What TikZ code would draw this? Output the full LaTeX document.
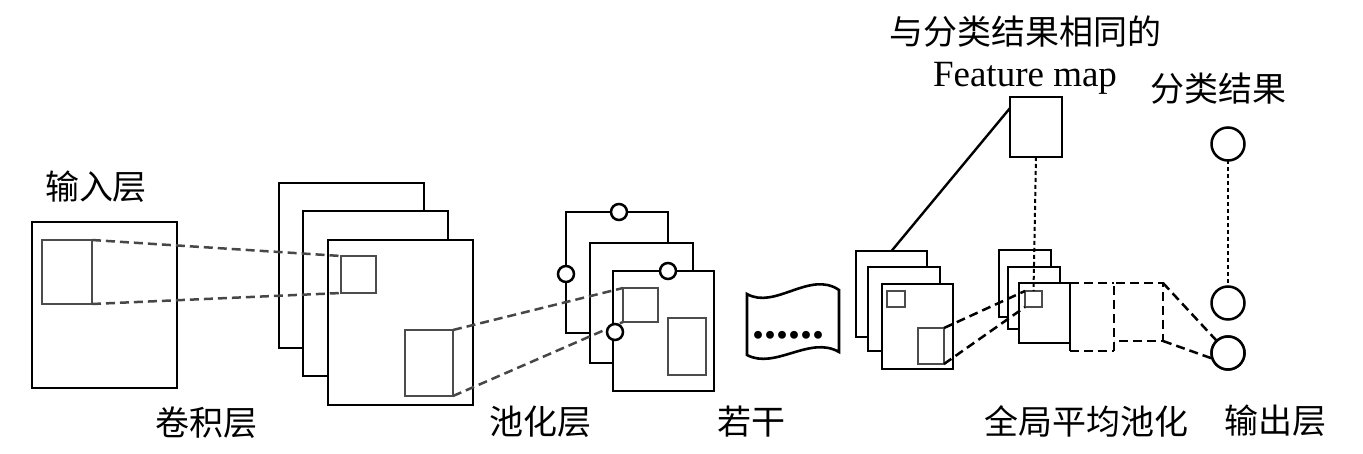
\documentclass[tikz,border=0pt]{standalone}
\usepackage{fontspec}
\setmainfont{Liberation Serif}
\newfontfamily\cjk{Noto Sans CJK SC}
\begin{document}
\begin{tikzpicture}[x=1pt,y=-1pt,
  layer/.style={draw=black, line width=2.6pt, fill=white, inner sep=0pt, outer sep=0pt},
  inner/.style={draw=black!70, line width=2.5pt, inner sep=0pt, outer sep=0pt},
  conn/.style={draw=black!72, line width=2.5pt, dash pattern=on 9pt off 5pt},
  fcdash/.style={draw=black, line width=2.5pt, dash pattern=on 9pt off 5pt},
  dotline/.style={draw=black, line width=2pt, dash pattern=on 4pt off 3pt},
  ring/.style={circle, draw=black, line width=2.5pt, fill=white, inner sep=0pt, outer sep=0pt},
  lbl/.style={font=\cjk\fontsize{34}{36}\selectfont, inner sep=0pt}]
\useasboundingbox (0,0) rectangle (1363,454);

% input layer
\node[layer, minimum width=145, minimum height=166] (inp) at (104.5,305) {};
\node[inner, minimum width=50, minimum height=64] (inpk) at (67,272) {};

% convolution layer
\node[layer, minimum width=145, minimum height=165] (cback) at (351.5,265.5) {};
\node[layer, minimum width=145, minimum height=165] (cmid) at (375.5,293.5) {};
\node[layer, minimum width=145, minimum height=165] (cfront) at (400.5,322.5) {};
\node[inner, minimum width=35, minimum height=37] (csmall) at (358.5,274.5) {};
\node[inner, minimum width=48, minimum height=66] (crect) at (429,363) {};

% pooling layer
\node[layer, minimum width=102, minimum height=121] (pback) at (617,272.5) {};
\node[layer, minimum width=103, minimum height=120] (pmid) at (641.5,303) {};
\node[layer, minimum width=101, minimum height=120] (pfront) at (663.5,331) {};
\node[inner, minimum width=35, minimum height=34] (psmall) at (640.5,305) {};
\node[inner, minimum width=38, minimum height=57] (prect) at (687,346.5) {};

% "several" wave shape
\draw[line width=2.6pt, fill=white] (747,294) .. controls (775,310) and (810,270) .. (839,290)
  -- (839,352) .. controls (810,335) and (775,370) .. (747,355) -- cycle;
\node[font=\bfseries\fontsize{48}{50}\selectfont, inner sep=0pt, anchor=base] (dots) at (788,339) {......};

% stack before global average pooling
\node[layer, minimum width=71, minimum height=86] (lback) at (891.5,294) {};
\node[layer, minimum width=72, minimum height=84] (lmid) at (904,309) {};
\node[layer, minimum width=71, minimum height=85] (lfront) at (917.5,326.5) {};
\node[inner, minimum width=18, minimum height=16] (lsmall) at (896,299) {};
\node[inner, minimum width=26, minimum height=36] (lrect) at (931,346) {};

% global average pooling stack
\node[layer, minimum width=52, minimum height=67] (gback) at (1025,283.5) {};
\node[layer, minimum width=52, minimum height=62] (gmid) at (1034,298) {};
\node[layer, minimum width=51, minimum height=60] (gfront) at (1044.5,313) {};
\node[inner, minimum width=17, minimum height=16] (gsmall) at (1033.5,299) {};

% feature map box
\node[layer, minimum width=52, minimum height=60] (fm) at (1036,127) {};

% fully connected dashed boxes
\node[inner sep=0pt, outer sep=0pt, minimum width=44, minimum height=68] (fc1) at (1092,317) {};
\node[inner sep=0pt, outer sep=0pt, minimum width=49, minimum height=58] (fc2) at (1138.5,312) {};
\draw[fcdash] (fc1.north west) -- (fc1.north east);
\draw[fcdash] (fc1.south west) -- (fc1.south east);
\draw[line width=2.6pt] (gfront.south east) -- (fc1.south west);
\draw[fcdash] (fc1.south east) -- (fc2.north west) -- (fc2.north east) -- (fc2.south east) -- (fc2.south west);

% output nodes
\node[ring, minimum size=33] (o1) at (1228,144) {};
\node[ring, minimum size=33] (o2) at (1228,303) {};
\node[ring, minimum size=33] (o3) at (1228,353) {};

% connectors
\draw[conn] (inpk.north east) -- (csmall.north west);
\draw[conn] (inpk.south east) -- (csmall.south west);
\draw[conn] (crect.north east) -- (psmall.north west);
\draw[conn] (crect.south east) -- (psmall.south west);
\draw[conn, draw=black] (lrect.north east) -- (gsmall.north west);
\draw[conn, draw=black] (lrect.south east) -- (gsmall.south west);
\draw[line width=2.4pt] (fm.144) -- (lback.north);
\draw[dotline] (fm.south) -- (gsmall.north);
\draw[dotline] (o1.south) -- (o2.north);
\draw[fcdash] (fc2.north east) -- (o3);
\draw[fcdash] (fc2.south east) -- (o3.200);
\node[ring, minimum size=33] at (o3) {};

% pooling circles
\node[ring, minimum size=16] (c1) at (619,212) {};
\node[ring, minimum size=16] (c2) at (566,274) {};
\node[ring, minimum size=16] (c3) at (668,271) {};
\node[ring, minimum size=16] (c4) at (615,332) {};

% labels
\node[lbl] (l1) at (96,187) {输入层};
\node[lbl] (l2) at (206,423) {卷积层};
\node[lbl] (l3) at (540,422) {池化层};
\node[lbl] (l4) at (751,422) {若干};
\node[lbl] (l5) at (1086,421) {全局平均池化};
\node[lbl] (l6) at (1275,421) {输出层};
\node[lbl] (l7) at (1218,89) {分类结果};
\node[lbl] (l8) at (1025,32) {与分类结果相同的};
\node[font=\fontsize{37}{40}\selectfont, inner sep=0pt, anchor=base] (l9) at (1025,87) {Feature map};
\end{tikzpicture}
\end{document}
